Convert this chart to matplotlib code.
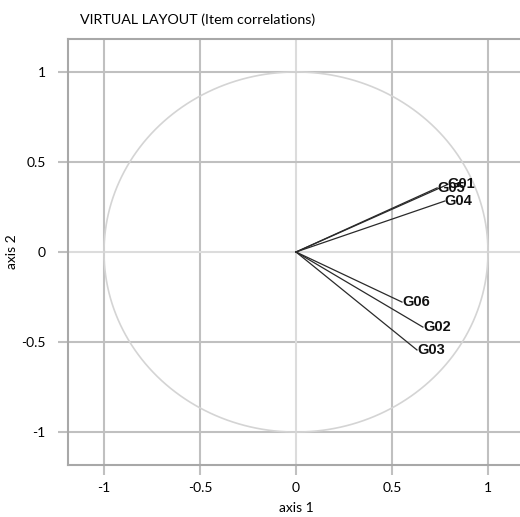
import numpy as np
import matplotlib
matplotlib.use("Agg")
import matplotlib.pyplot as plt

items = ["G01", "G05", "G04", "G06", "G02", "G03"]
axis1 = [0.79, 0.735, 0.775, 0.552, 0.661, 0.63]
axis2 = [0.375, 0.356, 0.283, -0.278, -0.417, -0.544]
ticks = [-1, -0.5, 0, 0.5, 1]
tick_labels = ["-1", "-0.5", "0", "0.5", "1"]

W, H = 520, 517
fig = plt.figure(figsize=(W / 100, H / 100), dpi=100)
ax = fig.add_axes([68 / W, 1 - 465 / H, (524 - 68) / W, (465 - 39) / H])
ax.set_xlim(-1.1875, 1.1875)
ax.set_ylim(-1.183, 1.183)

grid_c = "#c0c0c0"
zero_c = "#dcdcdc"
for t in ticks:
    c = zero_c if t == 0 else grid_c
    ax.axvline(t, color=c, lw=1.5, zorder=1)
    ax.axhline(t, color=c, lw=1.5, zorder=1)

th = np.linspace(0, 2 * np.pi, 400)
ax.plot(np.cos(th), np.sin(th), color="#d4d4d4", lw=1.2, zorder=2)

for name, x, y in zip(items, axis1, axis2):
    ax.plot([0, x], [0, y], color="#2a2a2a", lw=0.9, zorder=3)
    ax.text(x, y, name, fontsize=10.5, fontweight="bold", family="Liberation Sans",
            color="#111111", ha="left", va="center", zorder=4)

ax.set_xticks(ticks)
ax.set_xticklabels(tick_labels)
ax.set_yticks(ticks)
ax.set_yticklabels(tick_labels)
ax.tick_params(direction="out", length=7, width=1.5, color=grid_c,
               labelsize=10)
ax.tick_params(axis="x", pad=5)
ax.tick_params(axis="y", pad=9)
for lab in ax.get_xticklabels() + ax.get_yticklabels():
    lab.set_family("Lato")

for s in ["left", "bottom", "top"]:
    ax.spines[s].set_color("#a8a8a8")
    ax.spines[s].set_linewidth(1.5)
ax.spines["right"].set_visible(False)

fig.text(296 / W, 1 - 508 / H, "axis 1", family="Lato", fontsize=10,
         ha="center", va="center")
fig.text(12 / W, 1 - 252 / H, "axis 2", family="Lato", fontsize=10,
         ha="center", va="center", rotation=90)
fig.text(80 / W, 1 - 20 / H, "VIRTUAL LAYOUT (Item correlations)", family="Lato",
         fontsize=10.3, ha="left", va="center")

fig.savefig("out.png", dpi=100)
